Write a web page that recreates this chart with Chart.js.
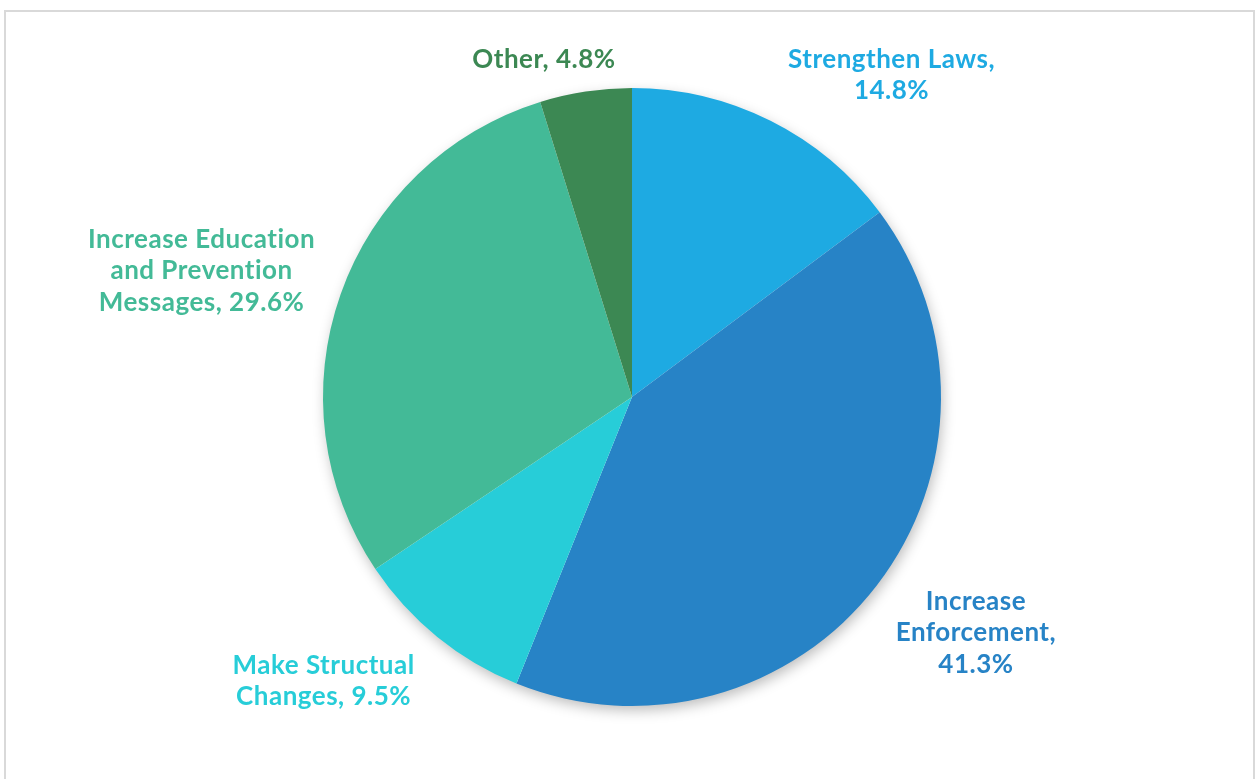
<!DOCTYPE html>
<html>
<head>
<meta charset="utf-8">
<script src="https://cdn.jsdelivr.net/npm/chart.js@4/dist/chart.umd.min.js"></script>
<style>
  html, body { margin: 0; padding: 0; background: #fff; overflow: hidden; }
  #frame {
    position: absolute; left: 4px; top: 10px;
    width: 1247px; height: 800px;
    border: 2px solid #d9d9d9;
  }
  #wrap { position: absolute; left: 0; top: 0; width: 1259px; height: 779px; }
</style>
</head>
<body>
<div id="frame"></div>
<div id="wrap"><canvas id="myChart"></canvas></div>
<script>
const categories = [
  "Strengthen Laws",
  "Increase Enforcement",
  "Make Structual Changes",
  "Increase Education and Prevention Messages",
  "Other",
];
const values = [14.8, 41.3, 9.5, 29.6, 4.8];
const sliceColors = ["#1eaae2", "#2783c6", "#27cdd8", "#43ba97", "#3c8853"];

// how each data label is wrapped ({v} = value)
const labelLines = [
  ["Strengthen Laws,", "{v}%"],
  ["Increase", "Enforcement,", "{v}%"],
  ["Make Structual", "Changes, {v}%"],
  ["Increase Education", "and Prevention", "Messages, {v}%"],
  ["Other, {v}%"],
];

// label centre, as offset from pie centre in units of radius
const labelOffsets = [
  [0.840, -1.042],
  [1.113, 0.764],
  [-0.998, 0.919],
  [-1.393, -0.408],
  [-0.285, -1.091],
];

const ctx = document.getElementById("myChart");

const pieShadow = {
  id: "pieShadow",
  beforeDatasetsDraw(chart) {
    const arc = chart.getDatasetMeta(0).data[0];
    if (!arc) return;
    const c = chart.ctx;
    c.save();
    c.shadowColor = "rgba(0,0,0,0.28)";
    c.shadowBlur = 14;
    c.shadowOffsetX = 2;
    c.shadowOffsetY = 5;
    c.fillStyle = "#ffffff";
    c.beginPath();
    c.arc(arc.x, arc.y, arc.outerRadius - 1, 0, Math.PI * 2);
    c.fill();
    c.restore();
  },
};

const outsideLabels = {
  id: "outsideLabels",
  afterDatasetsDraw(chart) {
    const c = chart.ctx;
    const arcs = chart.getDatasetMeta(0).data;
    c.save();
    c.font = "bold 26px Lato";
    c.letterSpacing = "0.5px";
    c.textAlign = "center";
    c.textBaseline = "middle";
    arcs.forEach((arc, i) => {
      const lines = labelLines[i].map((l) => l.replace("{v}", values[i].toFixed(1)));
      const cx = arc.x + labelOffsets[i][0] * arc.outerRadius;
      const cy = arc.y + labelOffsets[i][1] * arc.outerRadius;
      const lh = 31.5;
      const top = cy - ((lines.length - 1) * lh) / 2;
      c.fillStyle = sliceColors[i];
      lines.forEach((l, j) => c.fillText(l, cx, top + j * lh));
    });
    c.restore();
  },
};

new Chart(ctx, {
  type: "pie",
  data: {
    labels: categories,
    datasets: [
      {
        data: values,
        backgroundColor: sliceColors,
        borderWidth: 0,
      },
    ],
  },
  options: {
    responsive: true,
    maintainAspectRatio: false,
    animation: false,
    layout: { padding: { top: 88, bottom: 73, left: 5, right: 0 } },
    plugins: {
      legend: { display: false },
      tooltip: { enabled: false },
    },
  },
  plugins: [pieShadow, outsideLabels],
});
</script>
</body>
</html>
